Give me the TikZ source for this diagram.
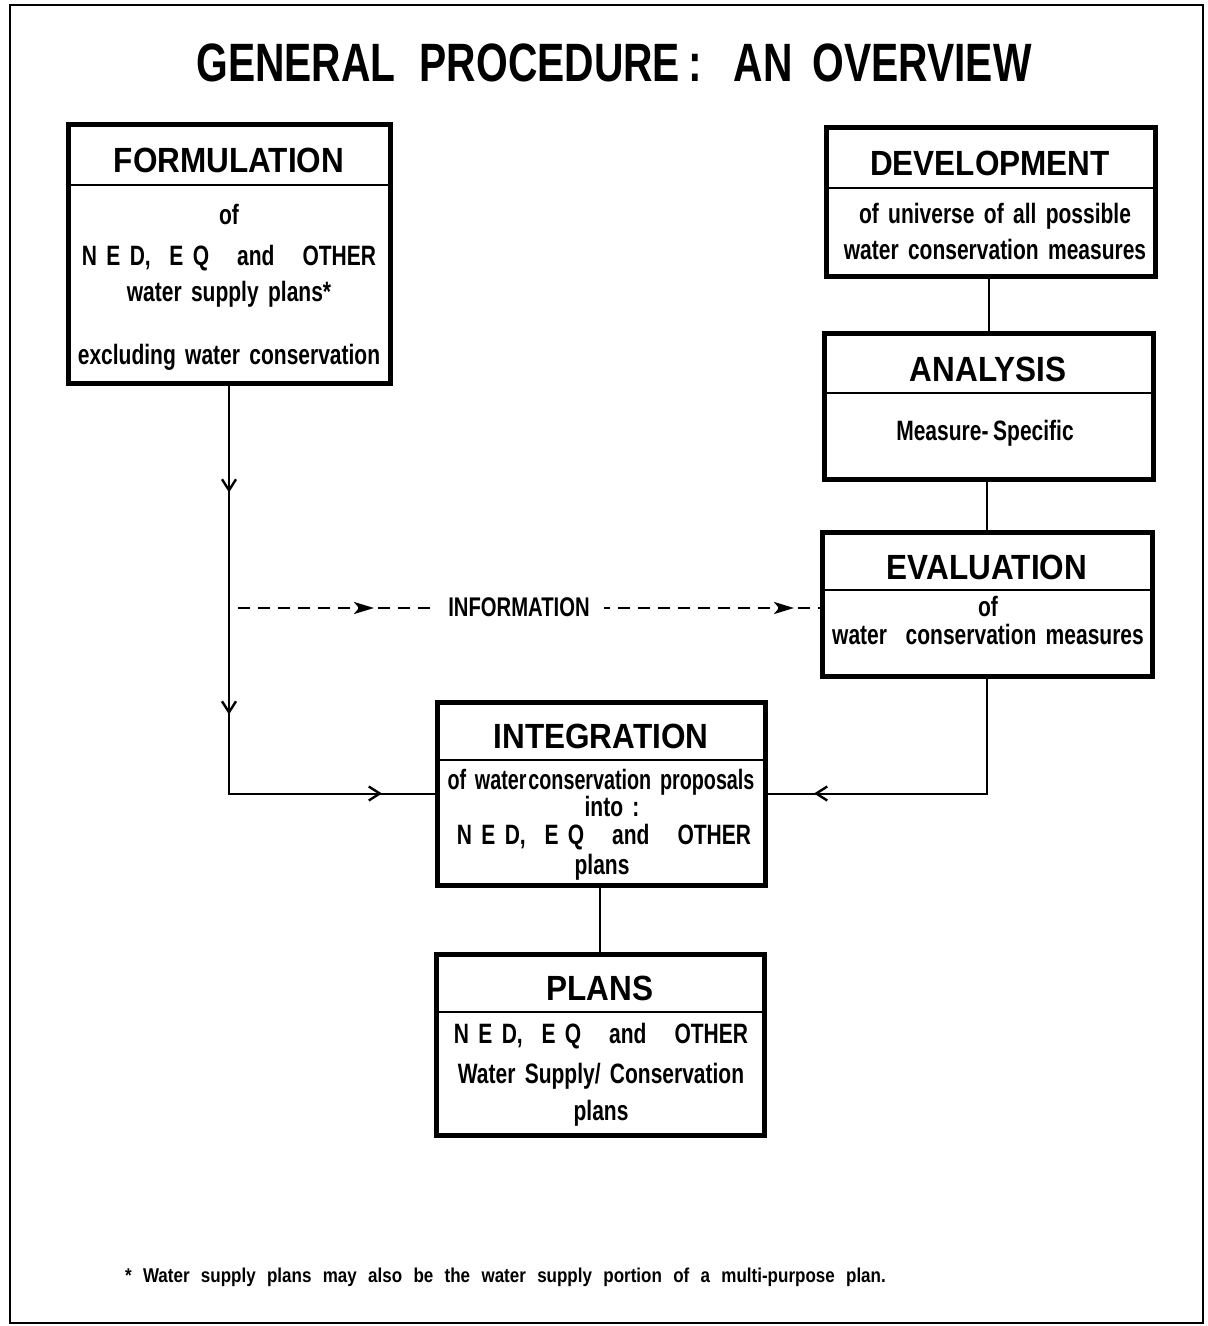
\documentclass[tikz,border=0pt]{standalone}
\usepackage{fontspec}
\newfontfamily\titlefont{Liberation Sans}[FakeStretch=0.755]
\newfontfamily\headfont{Liberation Sans}[FakeStretch=0.9]
\newfontfamily\bodyfont{Liberation Sans}[FakeStretch=0.75, WordSpace=1.6]
\newfontfamily\notefont{Liberation Sans}[FakeStretch=0.85, WordSpace=2.4]
\usetikzlibrary{arrows.meta,decorations.markings,fit}

\tikzset{
  box/.style={draw, line width=2.5pt, inner sep=0pt},
  rule/.style={line width=1pt},
  title/.style={font=\titlefont\bfseries\fontsize{27}{30}\selectfont},
  head/.style={font=\headfont\bfseries\fontsize{17.5}{20}\selectfont, yshift=-1.5pt},
  body/.style={font=\bodyfont\bfseries\fontsize{14}{16}\selectfont, anchor=mid, inner sep=0pt, yshift=-2pt},
  flow/.style={line width=1pt},
  info/.style={line width=1.4pt, dash pattern=on 6pt off 4pt},
  barb/.tip={Straight Barb[length=5.5pt,width=7pt,line width=1.2pt]},
  dart/.tip={Stealth[length=10pt,width=6pt,inset=2.5pt]},
}
\newcommand{\nedline}{N E D,\ \ E Q\quad and\quad OTHER}

\begin{document}
\begin{tikzpicture}[x=0.5pt, y=-0.5pt]
\useasboundingbox (0,0) rectangle (1208,1326);
\draw[line width=0.6pt] (10,5) rectangle (1203,1323);

\node[title] (title) at (614,63)
  {GENERAL\hspace{12pt}PROCEDURE\hspace{4pt}:\hspace{16pt}AN\hspace{10pt}OVERVIEW};

% boxes
\node[box, fit={(68,125) (390,383)}] (form) {};
\node[box, fit={(826,128) (1155,277)}] (dev) {};
\node[box, fit={(824,334) (1153,479)}] (ana) {};
\node[box, fit={(822,532) (1152,676)}] (eval) {};
\node[box, fit={(437,702) (765,885)}] (integ) {};
\node[box, fit={(436,954) (764,1135)}] (plans) {};

% header rules
\draw[rule] (form.west |- 0,185) -- (form.east |- 0,185);
\draw[rule] (dev.west |- 0,188) -- (dev.east |- 0,188);
\draw[rule] (ana.west |- 0,393) -- (ana.east |- 0,393);
\draw[rule] (eval.west |- 0,590) -- (eval.east |- 0,590);
\draw[rule] (integ.west |- 0,760) -- (integ.east |- 0,760);
\draw[rule] (plans.west |- 0,1012) -- (plans.east |- 0,1012);

% headers
\node[head] (form-h) at (229,157) {FORMULATION};
\node[head] (dev-h) at (990,160) {DEVELOPMENT};
\node[head] (ana-h) at (988,366) {ANALYSIS};
\node[head] (eval-h) at (987,564) {EVALUATION};
\node[head] (integ-h) at (601,733) {INTEGRATION};
\node[head] (plans-h) at (600,985) {PLANS};

% body text
\foreach \t/\y [count=\i] in {of/216, {\nedline}/257, {water supply plans*}/293,
    {excluding water conservation}/356}
  \node[body] (form-\i) at (229,\y) {\t};
\foreach \t/\y [count=\i] in {{of universe of all possible}/215,
    {water conservation measures}/251}
  \node[body] (dev-\i) at (995,\y) {\t};
\node[body] (ana-1) at (985,432) {Measure-\,Specific};
\foreach \t/\y [count=\i] in {of/608, {water\ \ conservation measures}/636}
  \node[body] (eval-\i) at (988,\y) {\t};
\foreach \t/\x/\y [count=\i] in {{\scalebox{0.94}[1]{of water\kern1pt conservation proposals}}/601/781,
    {into :}/612/808, {\nedline}/604/836, plans/602/866}
  \node[body] (integ-\i) at (\x,\y) {\t};
\foreach \t/\y [count=\i] in {{\nedline}/1035, {Water Supply/ Conservation}/1075,
    plans/1112}
  \node[body] (plans-\i) at (601,\y) {\t};

% connectors
\coordinate (left) at (form.south |- integ.west);
\coordinate (right) at (eval.south |- integ.east);
\coordinate (src) at (238,608);
\draw[flow, postaction={decorate}, decoration={markings,
    mark=at position 53.5pt with {\arrow{barb}},
    mark=at position 164.5pt with {\arrow{barb}},
    mark=at position 280.5pt with {\arrow{barb}}}]
  (form.south) -- (left) -- (integ.west);
\draw[flow, postaction={decorate}, decoration={markings,
    mark=at position 144pt with {\arrow{barb}}}]
  (eval.south) -- (right) -- (integ.east);
\draw[flow] (ana.north |- dev.south) -- (ana.north);
\draw[flow] (eval.north |- ana.south) -- (eval.north);
\draw[flow] (plans.north |- integ.south) -- (plans.north);
\draw[info, postaction={decorate}, decoration={markings,
    mark=at position 68pt with {\arrow{dart}},
    mark=at position 278pt with {\arrow{dart}}}]
  (src) -- (eval.west |- src);
\node[body, fill=white, inner xsep=7pt, inner ysep=4pt, font=\bodyfont\bfseries\fontsize{13.5}{15}\selectfont]
  (infolabel) at (519,608) {INFORMATION};

\node[font=\notefont\bfseries\fontsize{10}{12}\selectfont, anchor=west] (note) at (118,1277)
  {* Water supply plans may also be the water supply portion of a multi-purpose plan.};
\end{tikzpicture}
\end{document}
